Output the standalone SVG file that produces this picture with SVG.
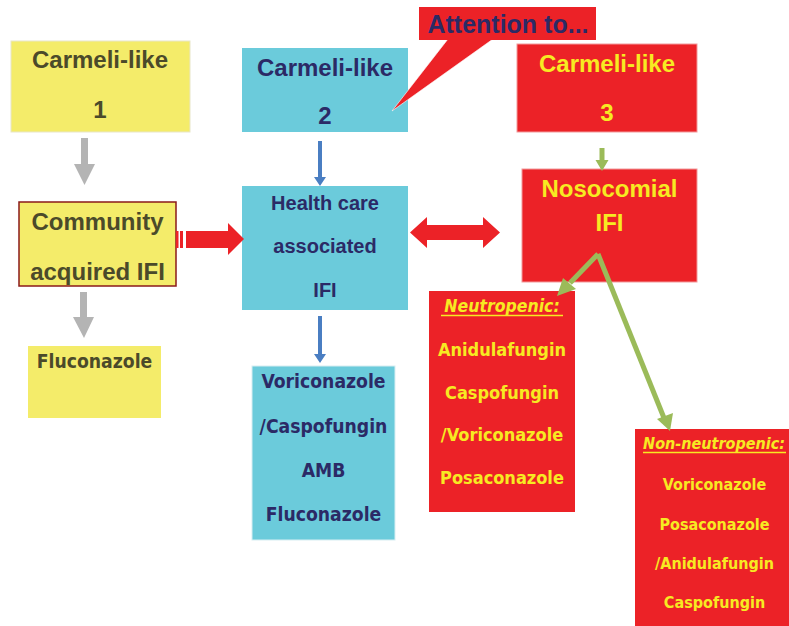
<svg xmlns="http://www.w3.org/2000/svg" width="789" height="626" viewBox="0 0 789 626">
  <defs>
    <style>
      .yel { fill: #F4EC6A; }
      .cyn { fill: #6BCBDB; }
      .red { fill: #EC2227; }
      .hd { font-family: "Liberation Sans", Arial, sans-serif; font-weight: bold; text-anchor: middle; }
      .dr { font-family: "DejaVu Sans Condensed", "DejaVu Sans", sans-serif; font-stretch: condensed; font-weight: bold; text-anchor: middle; }
      .olive { fill: #4B4A2A; }
      .navy { fill: #2B2A66; }
      .gold { fill: #F7EA22; }
      .uline { stroke: #F7EA22; stroke-width: 1.5; }
      .gray { fill: #B4B4B4; }
      .blue { fill: #4A7EC2; }
      .green { stroke: #9BBB59; stroke-width: 5; fill: none; }
      .greenf { fill: #9BBB59; }
    </style>
  </defs>

  <g id="carmeli1">
    <rect class="yel" x="11" y="41" width="179" height="91" stroke="#E8E6C8" stroke-width="1"/>
    <text class="hd olive" x="100" y="68" font-size="24">Carmeli-like</text>
    <text class="hd olive" x="100" y="118" font-size="24">1</text>
  </g>

  <g id="carmeli2">
    <rect class="cyn" x="242" y="48" width="166" height="84"/>
    <text class="hd navy" x="325" y="76" font-size="24">Carmeli-like</text>
    <text class="hd navy" x="325" y="124" font-size="24">2</text>
  </g>

  <!-- speech-bubble callout, its tail laid over box 2 -->
  <g id="callout">
    <path class="red" d="M448,39 L493,39 L392,111 Z" stroke="#FFFFFF" stroke-width="0.6" stroke-linejoin="miter"/>
    <rect class="red" x="419" y="7" width="177" height="33"/>
    <text class="hd navy" x="508" y="33" font-size="25">Attention to...</text>
  </g>

  <g id="carmeli3">
    <rect class="red" x="517" y="44" width="180" height="88" stroke="#F29A9C" stroke-width="1"/>
    <text class="hd gold" x="607" y="72" font-size="24">Carmeli-like</text>
    <text class="hd gold" x="607" y="121" font-size="24">3</text>
  </g>

  <g id="community">
    <rect class="yel" x="19" y="202" width="157" height="84" stroke="#8B1A1A" stroke-width="1.5"/>
    <text class="hd olive" x="97.5" y="230" font-size="24">Community</text>
    <text class="hd olive" x="97.5" y="280" font-size="24">acquired IFI</text>
  </g>

  <g id="fluconazole">
    <rect class="yel" x="28" y="346" width="133" height="72"/>
    <text class="dr olive" x="94.5" y="368" font-size="19.2">Fluconazole</text>
  </g>

  <g id="healthcare">
    <rect class="cyn" x="242" y="186" width="166" height="124"/>
    <text class="hd navy" x="325" y="210" font-size="20">Health care</text>
    <text class="hd navy" x="325" y="253" font-size="20">associated</text>
    <text class="hd navy" x="325" y="297" font-size="20">IFI</text>
  </g>

  <g id="hc-therapy">
    <rect class="cyn" x="252" y="366" width="143" height="174" stroke="#D8EEF2" stroke-width="1"/>
    <text class="dr navy" x="323.5" y="388" font-size="19.2">Voriconazole</text>
    <text class="dr navy" x="323.5" y="433" font-size="19.2">/Caspofungin</text>
    <text class="dr navy" x="323.5" y="477" font-size="19.2">AMB</text>
    <text class="dr navy" x="323.5" y="521" font-size="19.2">Fluconazole</text>
  </g>

  <g id="nosocomial">
    <rect class="red" x="522" y="169" width="175" height="113" stroke="#F29A9C" stroke-width="1"/>
    <text class="hd gold" x="609.5" y="197" font-size="24">Nosocomial</text>
    <text class="hd gold" x="609.5" y="231" font-size="24">IFI</text>
  </g>

  <g id="neutropenic">
    <rect class="red" x="429" y="291" width="146" height="221"/>
    <text class="dr gold" x="502" y="312" font-size="17.5" font-style="italic">Neutropenic:</text>
    <line class="uline" x1="441" y1="315.5" x2="563" y2="315.5"/>
    <text class="dr gold" x="502" y="356" font-size="18">Anidulafungin</text>
    <text class="dr gold" x="502" y="399" font-size="18">Caspofungin</text>
    <text class="dr gold" x="502" y="441" font-size="18">/Voriconazole</text>
    <text class="dr gold" x="502" y="484" font-size="18">Posaconazole</text>
  </g>

  <g id="non-neutropenic">
    <rect class="red" x="635" y="429" width="154" height="197"/>
    <text class="dr gold" x="714" y="449" font-size="16" font-style="italic">Non-neutropenic:</text>
    <line class="uline" x1="643" y1="452.5" x2="786" y2="452.5"/>
    <text class="dr gold" x="714.5" y="490" font-size="16">Voriconazole</text>
    <text class="dr gold" x="714.5" y="530" font-size="16">Posaconazole</text>
    <text class="dr gold" x="714.5" y="569" font-size="16">/Anidulafungin</text>
    <text class="dr gold" x="714.5" y="608" font-size="16">Caspofungin</text>
  </g>

  <!-- connectors, drawn last so they sit over the boxes -->
  <g id="connectors">
    <!-- grey block arrows -->
    <path class="gray" d="M81,138 H88 V164 H95 L84.5,185 L74,164 H81 Z"/>
    <path class="gray" d="M80,292 H87 V317 H94 L84,338 L73,317 H80 Z"/>
    <!-- blue arrows -->
    <path class="blue" d="M318,141 H322 V177 H326 L320,186 L314,177 H318 Z"/>
    <path class="blue" d="M318,316 H322 V354 H326 L320,363 L314,354 H318 Z"/>
    <!-- red arrow from community to health care, striped tail -->
    <rect class="red" x="176" y="231" width="2.5" height="17"/>
    <rect class="red" x="180" y="231" width="3" height="17"/>
    <path class="red" d="M186,231 H228 V223 L244,239 L228,255 V248 H186 Z"/>
    <!-- red double arrow -->
    <path class="red" d="M410,232.5 L427,217 V225 H483 V217 L500,232.5 L483,248 V240 H427 V248 Z"/>
    <!-- green arrows -->
    <path class="greenf" d="M599.5,148 H604.5 V160 H608.5 L602,171 L595.5,160 H599.5 Z"/>
    <line class="green" x1="598" y1="254" x2="570" y2="283"/>
    <path class="greenf" d="M557,296 L563,278 L576,289 Z"/>
    <line class="green" x1="598" y1="254" x2="664" y2="418"/>
    <path class="greenf" d="M670,431 L657,419 L673,413 Z"/>
  </g>
</svg>
